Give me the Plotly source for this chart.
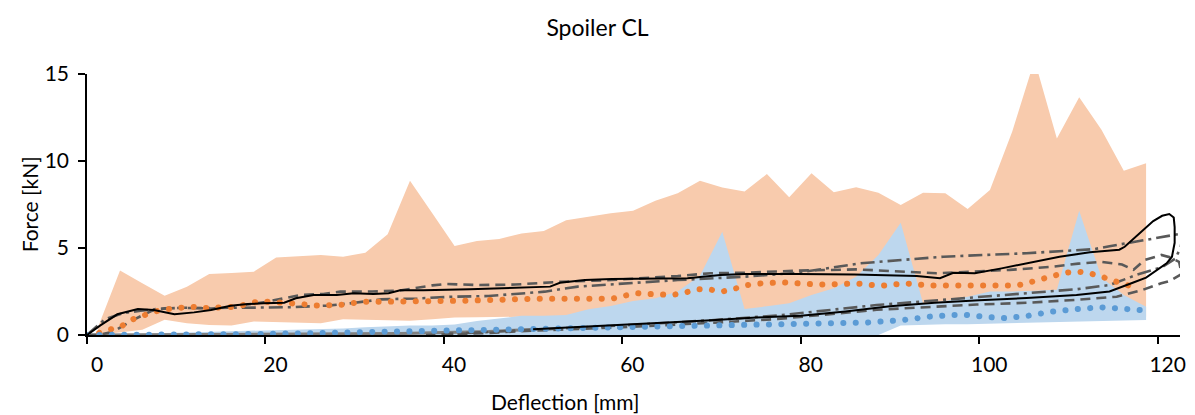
import plotly.graph_objects as go

# Shared deflection grid of the scatter bands [mm]
band_x = [1.2, 3.7, 6.2, 8.7, 11.2, 13.7, 16.2, 18.7, 21.2, 23.7, 26.2, 28.7, 31.2, 33.7,
          36.2, 38.7, 41.2, 43.7, 46.2, 48.7, 51.2, 53.7, 56.2, 58.7, 61.2, 63.7, 66.2,
          68.7, 71.2, 73.7, 76.2, 78.7, 81.2, 83.7, 86.2, 88.7, 91.2, 93.7, 96.2, 98.7,
          101.2, 103.7, 106.2, 108.7, 111.2, 113.7, 116.2, 118.7]

# Loading band (min / max) [kN]
load_hi = [0.4, 3.7, 2.97, 2.26, 2.78, 3.5, 3.57, 3.64, 4.46, 4.55, 4.6, 4.5, 4.73, 5.79,
           8.87, 7.0, 5.11, 5.4, 5.52, 5.84, 5.98, 6.6, 6.8, 6.99, 7.14, 7.72, 8.14,
           8.87, 8.47, 8.24, 9.25, 7.91, 9.29, 8.2, 8.49, 8.18, 7.47, 8.18, 8.14, 7.24,
           8.33, 11.7, 15.8, 11.3, 13.66, 11.8, 9.44, 9.87]
load_lo = [0.0, 0.15, 0.3, 0.88, 0.68, 0.58, 0.55, 0.78, 0.74, 0.71, 0.68, 0.9, 0.88, 0.84,
           0.82, 0.9, 1.0, 1.02, 1.05, 1.05, 1.05, 1.05, 1.05, 1.05, 1.05, 1.05, 1.05,
           1.05, 1.05, 1.05, 1.05, 1.05, 1.05, 1.05, 1.05, 1.05, 1.05, 1.05, 1.05, 1.05,
           1.05, 1.05, 1.05, 1.05, 1.05, 1.05, 1.05, 1.05]

# Unloading band (min / max) [kN]
unload_hi = [0.0, 0.05, 0.1, 0.12, 0.15, 0.18, 0.2, 0.25, 0.3, 0.3, 0.33, 0.38, 0.45, 0.5,
             0.55, 0.55, 0.6, 0.8, 0.95, 1.1, 1.1, 1.15, 1.48, 1.67, 1.95, 2.11, 2.5,
             3.4, 5.94, 1.5, 1.65, 1.82, 2.3, 2.68, 3.35, 4.6, 6.45, 1.82, 1.95, 2.2,
             2.5, 2.5, 2.55, 2.6, 7.14, 3.3, 2.3, 1.63]
unload_lo = [0.0, 0.0, 0.0, 0.0, 0.0, 0.0, 0.0, 0.0, 0.0, 0.0, 0.0, 0.0, 0.0, 0.0,
             0.0, 0.0, 0.0, 0.0, 0.0, 0.0, 0.0, 0.0, 0.0, 0.0, 0.0, 0.0, 0.0,
             0.0, 0.0, 0.0, 0.0, 0.0, 0.0, 0.0, 0.0, 0.0, 0.55, 0.6, 0.62, 0.62,
             0.65, 0.7, 0.72, 0.78, 0.8, 0.82, 0.85, 0.86]

# Mean loading curve
mean_load_x = [0, 1.2, 2.4, 3.8, 4.9, 6.3, 7.6, 9.0, 10.3, 11.7, 13.1, 14.5, 15.9, 17.2,
               18.5, 20.0, 21.3, 22.7, 24.1, 25.4, 26.9, 28.3, 29.7, 31.0, 32.4, 33.8,
               36.6, 39.4, 42.2, 45.0, 47.7, 50.5, 53.3, 56.0, 58.8, 60.2, 61.6, 62.9,
               64.3, 65.6, 67.0, 68.4, 69.7, 71.1, 72.4, 73.8, 75.1, 76.5, 77.9, 79.2,
               80.6, 82.0, 84.8, 86.2, 88.9, 90.3, 91.7, 94.5, 98.6, 101.4, 102.9, 104.2,
               105.5, 106.8, 108.1, 109.5, 110.9, 112.2, 113.6, 114.9, 116.3, 117.6]
mean_load_y = [0, 0.1, 0.29, 0.48, 0.86, 1.15, 1.35, 1.49, 1.57, 1.63, 1.55, 1.55, 1.6, 1.67,
               1.88, 1.92, 1.9, 1.85, 1.78, 1.69, 1.67, 1.72, 1.82, 1.91, 1.91, 1.91,
               1.9, 1.91, 1.97, 2.01, 2.08, 2.09, 2.09, 2.09, 2.08, 2.25, 2.4, 2.36,
               2.3, 2.3, 2.43, 2.63, 2.63, 2.49, 2.63, 2.85, 2.95, 3.03, 3.03, 2.98,
               2.93, 2.9, 2.93, 2.97, 2.82, 2.91, 2.97, 2.84, 2.82, 2.87, 2.82, 2.84,
               3.0, 3.16, 3.39, 3.57, 3.65, 3.57, 3.37, 3.12, 2.9, 2.74]

# Mean unloading curve
mean_unload_x = [0, 10, 20, 30, 40, 50, 60, 70, 77.5, 82, 87.5, 91.5, 94.3, 97.1, 98.6,
                 101.2, 103, 105.3, 108.1, 110.9, 113.7, 115, 117.8, 119.3]
mean_unload_y = [0, 0.02, 0.06, 0.15, 0.25, 0.37, 0.4, 0.5, 0.57, 0.65, 0.72, 0.86, 1.05,
                 1.15, 1.15, 1.02, 0.97, 1.09, 1.34, 1.49, 1.59, 1.55, 1.44, 1.38]

# Test run A (solid loop)
run_a_x = [0, 1.5, 3.4, 5.7, 7.5, 9.8, 12.0, 13.9, 16.1, 18.0, 19.8, 22.1, 23.4, 25.4,
           28.0, 29.9, 32.1, 33.8, 35.1, 37.7, 42.9, 47.2, 51.9, 53.0, 55.8, 58.8,
           61.4, 64.0, 67.3, 71.0, 73.7, 79.6, 86.0, 93.0, 95.6, 97.1, 99.5, 102.5,
           106.0, 109.0, 112.4, 115.7, 116.3, 118.0, 119.5, 120.5, 121.3, 121.8, 121.9,
           121.9, 121.6, 121.0, 120.2, 118.7, 117.2, 114.6, 110.9, 105.3, 100.0, 95.0,
           90.0, 85.0, 80.0, 75.0, 70.0, 65.0, 60.0, 55.0, 50.0]
run_a_y = [0, 0.55, 1.19, 1.49, 1.44, 1.19, 1.3, 1.44, 1.68, 1.78, 1.82, 1.86, 2.11, 2.3,
           2.3, 2.4, 2.36, 2.4, 2.57, 2.57, 2.63, 2.72, 2.78, 3.0, 3.16, 3.22,
           3.22, 3.26, 3.26, 3.45, 3.5, 3.5, 3.48, 3.39, 3.26, 3.58, 3.55, 3.83,
           4.18, 4.5, 4.75, 4.9, 5.07, 5.84, 6.55, 6.85, 6.95, 6.75, 6.2,
           5.3, 4.5, 4.12, 3.83, 3.3, 3.0, 2.5, 2.3, 2.12, 2.0, 1.85,
           1.65, 1.35, 1.1, 1.0, 0.85, 0.72, 0.55, 0.42, 0.33]

# Test run A, return near zero
run_a_tail_x = [0, 20, 35, 45, 50.5]
run_a_tail_y = [0, 0.03, 0.08, 0.2, 0.33]

# Test run B (dashed loop)
run_b_x = [0, 1.5, 2.9, 5.3, 7.2, 8.7, 11.0, 14.0, 16.0, 18.3, 20.0, 22.0, 24.0, 26.5,
           28.4, 32.0, 35.0, 38.7, 40.2, 44.0, 48.0, 53.2, 58.8, 66.2, 69.9, 73.7,
           79.6, 86.3, 95.2, 103.4, 108.3, 111.1, 113.7, 116.0, 117.3, 118.5, 120.4,
           121.5, 122.4, 122.7, 121.3, 120.4, 118.3, 115.4, 110.9, 105.3, 99.7, 88.5,
           77.4, 70.0, 60.0, 50.0, 45.0, 38.0]
run_b_y = [0, 0.02, 0.19, 0.9, 1.38, 1.53, 1.57, 1.52, 1.6, 1.75, 1.9, 2.1, 2.3, 2.36,
           2.49, 2.5, 2.55, 2.85, 2.93, 2.87, 2.9, 3.06, 3.16, 3.39, 3.55, 3.58,
           3.7, 3.77, 3.55, 3.74, 3.93, 4.1, 4.2, 4.05, 3.75, 4.3, 4.6,
           4.45, 4.2, 3.5, 3.1, 2.97, 2.59, 2.2, 2.02, 1.85, 1.75, 1.45,
           0.92, 0.7, 0.45, 0.25, 0.12, 0.0]

# Test run C (dash-dot loop)
run_c_x = [0, 2.0, 4.0, 6.0, 8.0, 10.0, 13.0, 16.0, 20.0, 23.0, 27.0, 30.0, 33.0, 37.0,
           41.0, 45.0, 51.3, 55.0, 60.6, 66.2, 73.7, 79.6, 86.7, 96.0, 105.3, 112.8,
           114.6, 120.2, 122.8, 122.6, 122.0, 120.5, 117.6, 114.6, 110.9, 105.3, 99.7,
           88.5, 77.4, 70.0, 60.0, 50.0, 45.0, 40.0]
run_c_y = [0, 0.9, 1.25, 1.4, 1.5, 1.55, 1.55, 1.55, 1.58, 1.6, 1.69, 1.85, 2.05, 2.1,
           2.2, 2.24, 2.49, 2.78, 2.97, 3.16, 3.35, 3.58, 4.12, 4.5, 4.7, 4.93,
           5.1, 5.61, 5.84, 5.07, 4.4, 3.9, 3.45, 2.87, 2.63, 2.4, 2.17,
           1.72, 1.12, 0.85, 0.55, 0.3, 0.15, 0.05]

x_ticks = [0, 20, 40, 60, 80, 100, 120]
y_ticks = [0, 5, 10, 15]

ORANGE_FILL = "#F8CBAD"
BLUE_FILL = "#BDD7EE"
ORANGE = "#ED7D31"
BLUE = "#5B9BD5"
GREY = "#595959"
FONT = "Lato"

fig = go.Figure()

# bands: lower edge first, then upper edge filled down to it
fig.add_trace(go.Scatter(x=band_x, y=load_lo, mode="lines",
                         line=dict(width=0, color=ORANGE_FILL), hoverinfo="skip"))
fig.add_trace(go.Scatter(x=band_x, y=load_hi, mode="lines", fill="tonexty",
                         fillcolor=ORANGE_FILL, line=dict(width=0, color=ORANGE_FILL)))
fig.add_trace(go.Scatter(x=band_x, y=unload_lo, mode="lines",
                         line=dict(width=0, color=BLUE_FILL), hoverinfo="skip"))
fig.add_trace(go.Scatter(x=band_x, y=unload_hi, mode="lines", fill="tonexty",
                         fillcolor=BLUE_FILL, line=dict(width=0, color=BLUE_FILL)))

fig.add_trace(go.Scatter(x=run_a_tail_x, y=run_a_tail_y, mode="lines",
                         line=dict(color="#808080", width=3)))
fig.add_trace(go.Scatter(x=run_b_x, y=run_b_y, mode="lines",
                         line=dict(color=GREY, width=2.6, dash="10px,6px")))
fig.add_trace(go.Scatter(x=run_c_x, y=run_c_y, mode="lines",
                         line=dict(color=GREY, width=2.6, dash="14px,5px,3px,5px")))
fig.add_trace(go.Scatter(x=mean_load_x, y=mean_load_y, mode="lines",
                         line=dict(color=ORANGE, width=6, dash="0.1px,12.3px")))
fig.add_trace(go.Scatter(x=mean_unload_x, y=mean_unload_y, mode="lines",
                         line=dict(color=BLUE, width=6, dash="0.1px,12.3px")))
fig.add_trace(go.Scatter(x=run_a_x, y=run_a_y, mode="lines",
                         line=dict(color="black", width=2)))

axis_common = dict(showgrid=False, zeroline=False, showline=True, linecolor="black",
                   linewidth=1.5, ticks="outside", ticklen=7, tickwidth=1.5,
                   tickcolor="black", tickfont=dict(family=FONT, size=21, color="black"))

fig.update_layout(
    width=1195, height=415,
    margin=dict(l=87, r=9, t=74, b=80),
    paper_bgcolor="white", plot_bgcolor="white",
    showlegend=False,
    font=dict(family=FONT, color="black"),
    title=dict(text="Spoiler CL", x=0.5, xref="container", xanchor="center",
               y=1 - 28 / 415, yref="container", yanchor="middle",
               font=dict(family=FONT, size=23, color="black")),
    xaxis=dict(range=[0, 122.5], tickvals=x_ticks, ticklabelshift=10,
               ticklabelstandoff=3, **axis_common),
    yaxis=dict(range=[0, 15], tickvals=y_ticks, ticklabelstandoff=5, **axis_common),
    annotations=[
        dict(text="Deflection [mm]", xref="paper", yref="paper",
             x=(568 - 87) / 1099, y=(335 - 401) / 261, xanchor="center", yanchor="middle",
             showarrow=False, font=dict(family=FONT, size=21, color="black")),
        dict(text="Force [kN]", xref="paper", yref="paper", textangle=-90,
             x=(29 - 87) / 1099, y=(335 - 204) / 261, xanchor="center", yanchor="middle",
             showarrow=False, font=dict(family=FONT, size=21, color="black")),
    ],
)

# round caps turn the short dashes of the mean curves into dots
round_caps = """
var gd = document.getElementById('{plot_id}');
var traces = gd.querySelectorAll('.scatterlayer .trace');
[7, 8].forEach(function (i) {
  if (!traces[i]) return;
  traces[i].querySelectorAll('path.js-line').forEach(function (p) {
    p.style.strokeLinecap = 'round';
  });
});
"""

fig.write_html("out.html", post_script=round_caps)
